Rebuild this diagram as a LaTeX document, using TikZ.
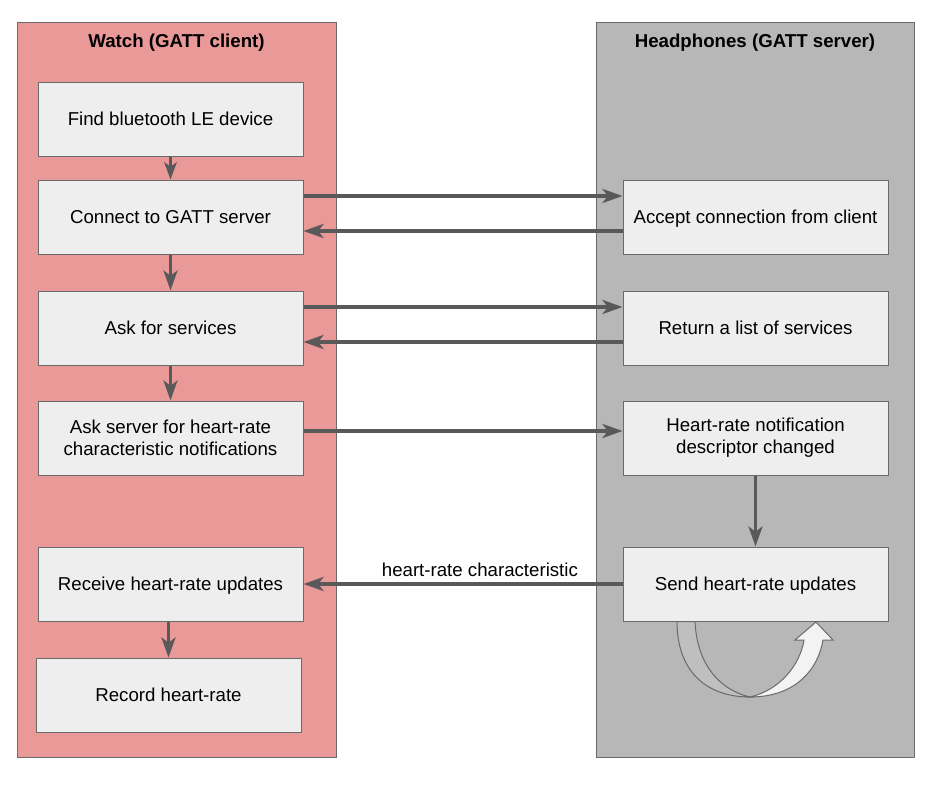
\documentclass[tikz,border=0pt]{standalone}
\usepackage{fontspec}
\setmainfont{Liberation Sans}
\usepackage{tikz}
\usetikzlibrary{arrows.meta,calc,positioning}
\tikzset{>=latex}
\definecolor{watchred}{HTML}{EA9999}
\definecolor{phonegray}{HTML}{B7B7B7}
\definecolor{boxgray}{HTML}{EEEEEE}
\definecolor{linegray}{HTML}{595959}
\definecolor{backgray}{HTML}{BFBFBF}

\begin{document}
\begin{tikzpicture}[x=0.75pt,y=-0.75pt,
    font=\fontsize{14}{16.5}\selectfont,
    panel/.style={draw=linegray!90, line width=0.75pt},
    box/.style={draw=linegray!90, fill=boxgray, line width=0.75pt, align=center,
      minimum width=265*0.75pt, minimum height=74*0.75pt, inner sep=2pt,
      text height=12pt, text depth=2pt},
    twoline/.style={text height={}, text depth={}},
    flow/.style={draw=linegray, line width=2.6pt, -{Stealth[length=15pt,width=10.5pt,inset=4pt]}},
    thinflow/.style={draw=linegray, line width=2pt, -{Stealth[length=13pt,width=9.5pt,inset=3.5pt]}}]
  \useasboundingbox (0,0) rectangle (939,785);

  % the two devices
  \draw[panel, fill=watchred] (17,22) rectangle (336,757);
  \draw[panel, fill=phonegray] (596,22) rectangle (914,757);
  \node[font=\fontsize{14}{16.5}\selectfont\bfseries] (client) at (176.5,43) {Watch (GATT client)};
  \node[font=\fontsize{14}{16.5}\selectfont\bfseries] (server) at (755,43) {Headphones (GATT server)};

  % client steps
  \node[box] (find) at (170.5,119) {Find bluetooth LE device};
  \node[box] (connect) at (170.5,217) {Connect to GATT server};
  \node[box] (ask) at (170.5,328) {Ask for services};
  \node[box, twoline] (subscribe) at (170.5,438) {Ask server for heart-rate\\characteristic notifications};
  \node[box] (receive) at (170.5,584) {Receive heart-rate updates};
  \node[box] (record) at (168.5,695) {Record heart-rate};

  % server steps
  \node[box] (accept) at (755.5,217) {Accept connection from client};
  \node[box] (services) at (755.5,328) {Return a list of services};
  \node[box, twoline] (changed) at (755.5,438) {Heart-rate notification\\descriptor changed};
  \node[box] (send) at (755.5,584) {Send heart-rate updates};

  % client flow
  \draw[thinflow] (find.south) -- (connect.north);
  \draw[flow] (connect.south) -- (ask.north);
  \draw[flow] (ask.south) -- (subscribe.north);
  \draw[flow] (record.north |- receive.south) -- (record.north);
  \draw[flow] (changed.south) -- (send.north);

  % messages between watch and headphones
  \foreach \from/\to/\y in {connect/accept/196, ask/services/307, subscribe/changed/431}
    \draw[flow] (\from.east |- 0,\y) -- (\to.west |- 0,\y);
  \foreach \from/\to/\y in {accept/connect/231, services/ask/342}
    \draw[flow] (\from.west |- 0,\y) -- (\to.east |- 0,\y);
  \draw[flow] (send.west) -- node[above=1pt, pos=0.447] {heart-rate characteristic} (receive.east);

  % repeat arrow under the sender
  \draw[draw=linegray!90, fill=backgray, line width=0.75pt]
    (677,621.5) -- (695,621.5) .. controls (697,665) and (720,690) .. (750,697)
    .. controls (705,697) and (677,670) .. cycle;
  \draw[draw=linegray!90, fill=boxgray!70!white, line width=0.75pt]
    (750,697) .. controls (795,697) and (818,670) .. (823,640) -- (833,640)
    -- (816,622) -- (795,640) -- (804,640)
    .. controls (800,665) and (780,690) .. cycle;
\end{tikzpicture}
\end{document}
